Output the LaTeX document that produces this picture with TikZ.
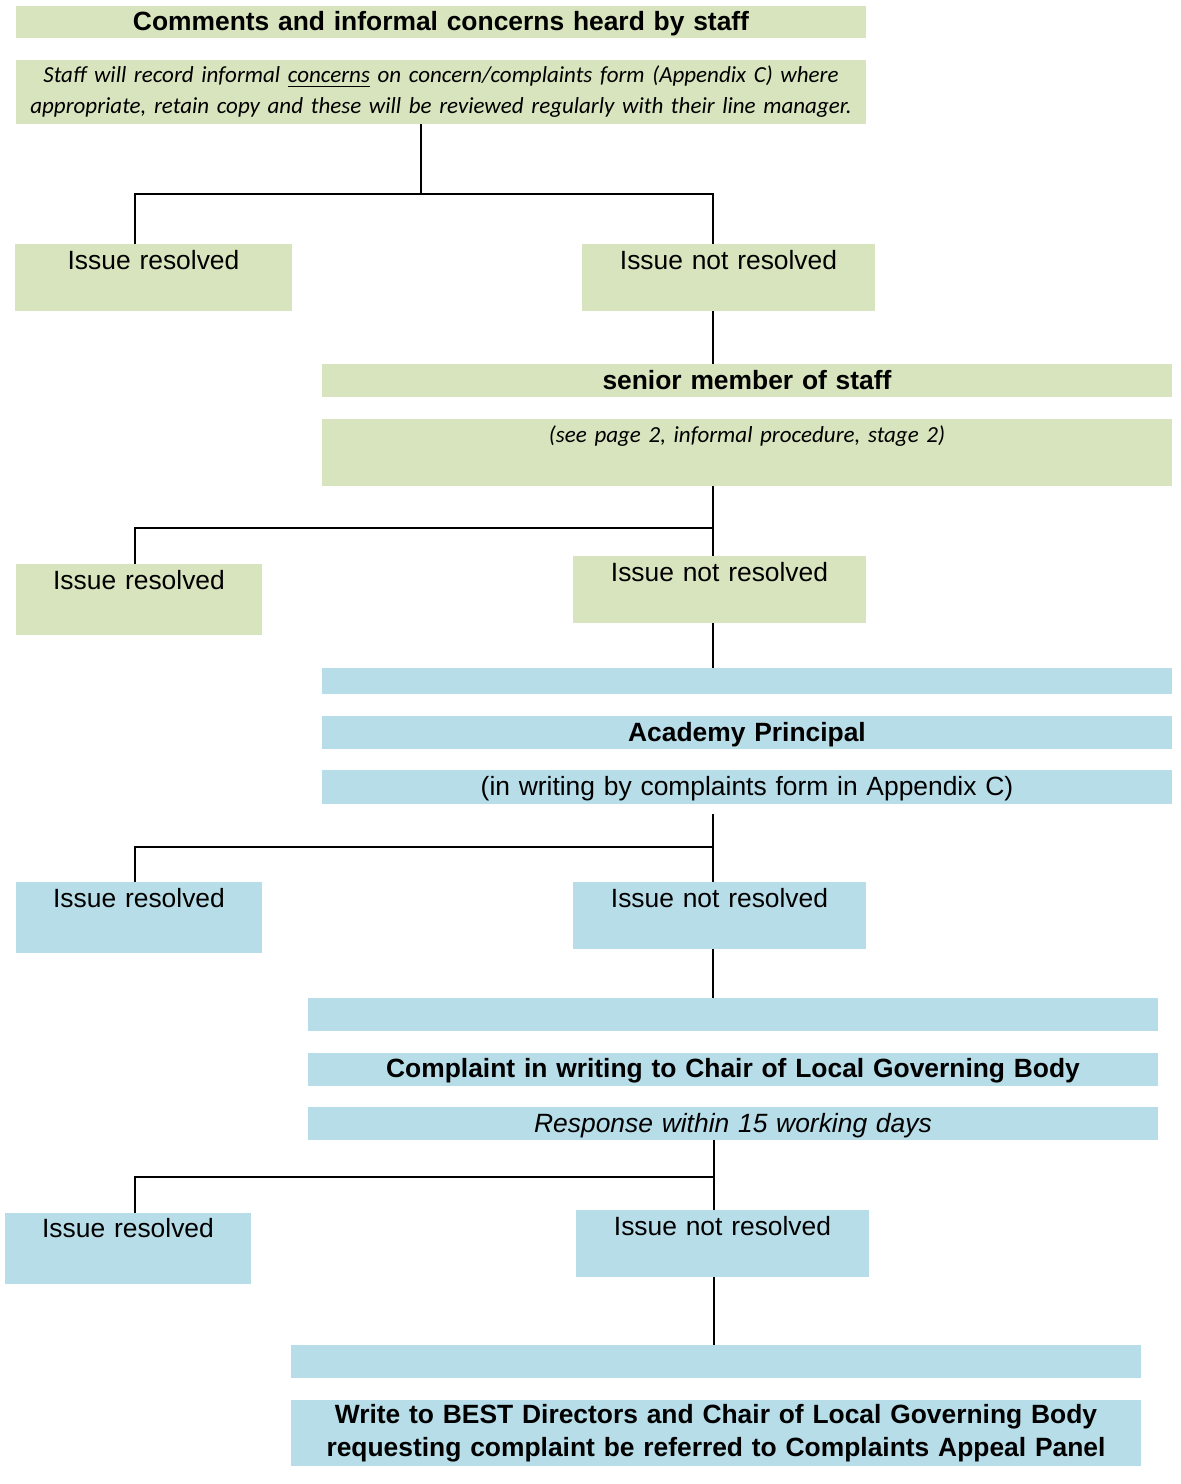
\documentclass[tikz,border=0pt]{standalone}
\usepackage{fontspec}
\setmainfont{Liberation Sans}
\newfontfamily\calibrifont{Carlito}
\definecolor{boxgreen}{RGB}{215,228,189}
\definecolor{boxblue}{RGB}{183,221,232}
\tikzset{%
  every node/.style={inner sep=0pt, outer sep=0pt, anchor=north west, align=center,
    font=\fontsize{13.2pt}{16pt}\selectfont}, % all boxes are placed by their top left corner
  flowbox/.style n args={3}{text width=#1, text height=#2, text depth=#3},
  greenbox/.style={fill=boxgreen},
  bluebox/.style={fill=boxblue},
  notefont/.style={font=\calibrifont\itshape\fontsize{11.5pt}{15.5pt}\selectfont},
  link/.style={draw, line width=1pt}
}

\begin{document}
\begin{tikzpicture}[x=0.5pt, y=-0.5pt]
    \useasboundingbox (0,0) rectangle (1180,1484);

    % informal stage
    \node[greenbox, flowbox={425pt}{12.25pt}{3.75pt}, font=\bfseries\fontsize{13.2pt}{16pt}\selectfont] (title) at (16,6) {Comments and informal concerns heard by staff};
    \node[greenbox, text width=425pt, minimum height=32pt, notefont] (staff) at (16,60)
        {Staff will record informal \underline{concerns} on concern/complaints form (Appendix C) where\\
         appropriate, retain copy and these will be reviewed regularly with their line manager.};
    \node[greenbox, flowbox={138.5pt}{12.75pt}{20.75pt}] (ir1) at (15,244) {Issue resolved};
    \node[greenbox, flowbox={146.5pt}{12.75pt}{20.75pt}] (nr1) at (582,244) {Issue not resolved};

    % senior member of staff
    \node[greenbox, flowbox={425pt}{12.75pt}{3.75pt}, font=\bfseries\fontsize{13.2pt}{16pt}\selectfont] (senior) at (322,364) {senior member of staff};
    \node[greenbox, flowbox={425pt}{11.5pt}{22pt}, notefont] (seepage) at (322,419) {(see page 2, informal procedure, stage 2)};
    \node[greenbox, flowbox={123pt}{12.75pt}{22.75pt}] (ir2) at (16,564) {Issue resolved};
    \node[greenbox, flowbox={146.5pt}{12.75pt}{20.75pt}] (nr2) at (573,556) {Issue not resolved};

    % principal
    \node[bluebox, flowbox={425pt}{13pt}{0pt}] (blank1) at (322,668) {};
    \node[bluebox, flowbox={425pt}{12.75pt}{3.75pt}, font=\bfseries\fontsize{13.2pt}{16pt}\selectfont] (principal) at (322,716) {Academy Principal};
    \node[bluebox, flowbox={425pt}{12.75pt}{4.25pt}] (writing) at (322,770) {(in writing by complaints form in Appendix C)};
    \node[bluebox, flowbox={123pt}{12.75pt}{22.75pt}] (ir3) at (16,882) {Issue resolved};
    \node[bluebox, flowbox={146.5pt}{12.75pt}{20.75pt}] (nr3) at (573,882) {Issue not resolved};

    % chair of governors
    \node[bluebox, flowbox={425pt}{16.5pt}{0pt}] (blank2) at (308,998) {};
    \node[bluebox, flowbox={425pt}{12.25pt}{4.25pt}, font=\bfseries\fontsize{13.2pt}{16pt}\selectfont] (chair) at (308,1053) {Complaint in writing to Chair of Local Governing Body};
    \node[bluebox, flowbox={425pt}{12.75pt}{3.75pt}, font=\itshape\fontsize{13.2pt}{16pt}\selectfont] (response) at (308,1107) {Response within 15 working days};
    \node[bluebox, flowbox={123pt}{12.25pt}{23.25pt}] (ir4) at (5,1213) {Issue resolved};
    \node[bluebox, flowbox={146.5pt}{12.75pt}{20.75pt}] (nr4) at (576,1210) {Issue not resolved};

    % appeal panel
    \node[bluebox, flowbox={425pt}{16.5pt}{0pt}] (blank3) at (291,1345) {};
    \node[bluebox, text width=425pt, minimum height=33pt, font=\bfseries\fontsize{13.2pt}{16.5pt}\selectfont] (best) at (291,1400)
        {Write to BEST Directors and Chair of Local Governing Body\\
         requesting complaint be referred to Complaints Appeal Panel};

    % forks
    \coordinate (f1) at (421,194);
    \coordinate (l1) at (135,194);
    \coordinate (r1) at (713,194);
    \coordinate (l2) at (135,528);
    \coordinate (r2) at (713,528);
    \coordinate (t3) at (713,814);
    \coordinate (l3) at (135,847);
    \coordinate (r3) at (713,847);
    \coordinate (l4) at (135,1177);
    \coordinate (r4) at (714,1177);

    \draw[link] (staff.south -| f1) -- (f1);
    \draw[link] (ir1.north -| l1) -- (l1) -- (r1) -- (nr1.north -| r1);
    \draw[link] (nr1.south -| r1) -- (senior.north -| r1);

    \draw[link] (seepage.south -| r2) -- (nr2.north -| r2);
    \draw[link] (r2) -- (l2) -- (ir2.north -| l2);
    \draw[link] (nr2.south -| r2) -- (blank1.north -| r2);

    \draw[link] (t3) -- (nr3.north -| t3);
    \draw[link] (r3) -- (l3) -- (ir3.north -| l3);
    \draw[link] (nr3.south -| r3) -- (blank2.north -| r3);

    \draw[link] (response.south -| r4) -- (nr4.north -| r4);
    \draw[link] (r4) -- (l4) -- (ir4.north -| l4);
    \draw[link] (nr4.south -| r4) -- (blank3.north -| r4);
\end{tikzpicture}
\end{document}
